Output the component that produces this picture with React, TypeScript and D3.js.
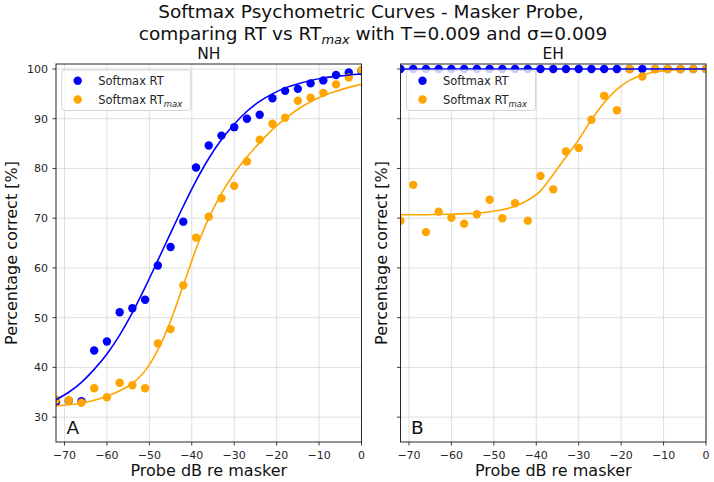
import React from "react";
import * as d3 from "d3";

// ---------- data ----------
const probeDb = [-72, -69, -66, -63, -60, -57, -54, -51, -48, -45, -42, -39, -36, -33, -30, -27, -24, -21, -18, -15, -12, -9, -6, -3, 0];

const nhRT = [33.0, 33.3, 33.2, 43.4, 45.2, 51.1, 51.9, 53.6, 60.5, 64.2, 69.3, 80.2, 84.6, 86.6, 88.3, 90.0, 90.8, 94.1, 95.6, 96.0, 97.1, 97.7, 98.8, 99.3, 99.6];
const nhRTmax = [33.5, 33.4, 32.9, 35.8, 34.0, 36.9, 36.4, 35.8, 44.8, 47.7, 56.5, 66.1, 70.3, 74.0, 76.5, 81.4, 85.8, 89.0, 90.2, 93.6, 94.2, 95.2, 96.9, 98.3, 99.8];
const ehRT = [100, 100, 100, 100, 100, 100, 100, 100, 100, 100, 100, 100, 100, 100, 100, 100, 100, 100, 100, 100, 100, 100, 100, 100, 100];
const ehRTmax = [69.5, 76.7, 67.2, 71.3, 70.1, 68.9, 70.8, 73.7, 70.0, 73.0, 69.5, 78.5, 75.8, 83.4, 84.1, 89.8, 94.6, 91.7, 100, 98.5, 100, 100, 100, 100, 100];

// fitted psychometric curves (read at the same probe levels)
const nhFitRT = [33.5, 35.0, 37.0, 39.6, 42.7, 46.5, 51.0, 56.1, 61.5, 67.0, 72.4, 77.5, 82.0, 85.8, 88.9, 91.5, 93.5, 95.0, 96.2, 97.0, 97.7, 98.2, 98.5, 98.8, 99.0];
const nhFitRTmax = [32.3, 32.5, 32.8, 33.4, 34.2, 35.3, 36.8, 39.3, 43.5, 49.3, 56.5, 63.8, 70.0, 75.0, 79.0, 82.3, 85.2, 87.8, 90.0, 91.9, 93.4, 94.6, 95.5, 96.3, 96.9];
const ehFitRT = [100, 100, 100, 100, 100, 100, 100, 100, 100, 100, 100, 100, 100, 100, 100, 100, 100, 100, 100, 100, 100, 100, 100, 100, 100];
const ehFitRTmax = [70.7, 70.7, 70.7, 70.8, 70.8, 70.9, 71.0, 71.3, 71.7, 72.4, 73.6, 75.5, 78.8, 82.3, 85.8, 89.8, 93.2, 95.9, 97.7, 98.8, 99.4, 99.7, 99.9, 100, 100];

const xTicks = [-70, -60, -50, -40, -30, -20, -10, 0];
const yTicks = [30, 40, 50, 60, 70, 80, 90, 100];
const panelTitles = ["NH", "EH"];
const panelLetters = ["A", "B"];

// ---------- layout ----------
const W = 714;
const H = 482;
const TOP = 64;
const BOTTOM = 442;
const PANELS = [
  { x0: 56, x1: 361.5 },
  { x0: 400.5, x1: 706 },
];
const FONT = "DejaVu Sans, Liberation Sans, sans-serif";
const BLUE = "#0000ff";
const ORANGE = "#ffa500";
const AXIS = "#262626";
const GRID = "#dadada";

const fmt = (v: number) => (v < 0 ? "\u2212" + Math.abs(v) : String(v));

function Legend({ x, y }: { x: number; y: number }) {
  return (
    <g transform={`translate(${x},${y})`}>
      <rect x={0} y={0} width={129} height={40.5} rx={3} fill="white" fillOpacity={0.8} stroke="#cccccc" strokeWidth={0.8} />
      <circle cx={16} cy={10.7} r={4.2} fill={BLUE} />
      <text x={36.5} y={10.7} dy="0.36em" fontSize={11.5} fontFamily={FONT} fill={AXIS}>Softmax RT</text>
      <circle cx={16} cy={29.5} r={4.2} fill={ORANGE} />
      <text x={36.5} y={29.5} dy="0.36em" fontSize={11.5} fontFamily={FONT} fill={AXIS}>
        Softmax RT<tspan fontStyle="italic" fontSize={8.5} dy="3">max</tspan>
      </text>
    </g>
  );
}

function Panel({ idx, rt, rtmax, fitRT, fitRTmax }: { idx: number; rt: number[]; rtmax: number[]; fitRT: number[]; fitRTmax: number[] }) {
  const p = PANELS[idx];
  const x = d3.scaleLinear().domain([-72, 0]).range([p.x0, p.x1]);
  const y = d3.scaleLinear().domain([25, 101]).range([BOTTOM, TOP]);
  const line = d3
    .line<[number, number]>()
    .x((d) => x(d[0]))
    .y((d) => y(d[1]))
    .curve(d3.curveMonotoneX);
  const clipId = `clip${idx}`;
  const cx = (p.x0 + p.x1) / 2;
  const ptsRT = probeDb.map((d, i) => [d, rt[i]] as [number, number]);
  const ptsMax = probeDb.map((d, i) => [d, rtmax[i]] as [number, number]);
  const fRT = probeDb.map((d, i) => [d, fitRT[i]] as [number, number]);
  const fMax = probeDb.map((d, i) => [d, fitRTmax[i]] as [number, number]);
  return (
    <g>
      <defs>
        <clipPath id={clipId}>
          <rect x={p.x0} y={TOP} width={p.x1 - p.x0} height={BOTTOM - TOP} />
        </clipPath>
      </defs>
      {/* grid */}
      {xTicks.map((t) => (
        <line key={"gx" + t} x1={x(t)} x2={x(t)} y1={TOP} y2={BOTTOM} stroke={GRID} strokeWidth={0.9} />
      ))}
      {yTicks.map((t) => (
        <line key={"gy" + t} x1={p.x0} x2={p.x1} y1={y(t)} y2={y(t)} stroke={GRID} strokeWidth={0.9} />
      ))}
      <g clipPath={`url(#${clipId})`}>
        {ptsRT.map((d, i) => (
          <circle key={"b" + i} cx={x(d[0])} cy={y(d[1])} r={4.2} fill={BLUE} />
        ))}
        {ptsMax.map((d, i) => (
          <circle key={"o" + i} cx={x(d[0])} cy={y(d[1])} r={4.2} fill={ORANGE} />
        ))}
        <path d={line(fMax) || ""} fill="none" stroke={ORANGE} strokeWidth={1.6} />
        <path d={line(fRT) || ""} fill="none" stroke={BLUE} strokeWidth={1.6} />
      </g>
      {/* spines */}
      <rect x={p.x0} y={TOP} width={p.x1 - p.x0} height={BOTTOM - TOP} fill="none" stroke={AXIS} strokeWidth={1} />
      {/* x ticks */}
      {xTicks.map((t) => (
        <g key={"xt" + t}>
          <line x1={x(t)} x2={x(t)} y1={BOTTOM} y2={BOTTOM + 3.5} stroke={AXIS} strokeWidth={0.9} />
          <text x={x(t)} y={459} textAnchor="middle" fontSize={11} fontFamily={FONT} fill={AXIS}>{fmt(t)}</text>
        </g>
      ))}
      {/* y ticks */}
      {yTicks.map((t) => (
        <g key={"yt" + t}>
          <line x1={p.x0 - 3.5} x2={p.x0} y1={y(t)} y2={y(t)} stroke={AXIS} strokeWidth={0.9} />
          {idx === 0 && (
            <text x={p.x0 - 8} y={y(t)} dy="0.36em" textAnchor="end" fontSize={11} fontFamily={FONT} fill={AXIS}>{t}</text>
          )}
        </g>
      ))}
      <text x={cx} y={59} textAnchor="middle" fontSize={15.5} fontFamily={FONT} fill="#111">{panelTitles[idx]}</text>
      <text x={cx} y={476} textAnchor="middle" fontSize={16} fontFamily={FONT} fill="#111">Probe dB re masker</text>
      <text
        transform={`translate(${idx === 0 ? 17 : 387},${(TOP + BOTTOM) / 2}) rotate(-90)`}
        textAnchor="middle"
        fontSize={16}
        fontFamily={FONT}
        fill="#111"
      >
        Percentage correct [%]
      </text>
      <text x={p.x0 + 10.5} y={434.3} fontSize={18.5} fontFamily={FONT} fill="#111">{panelLetters[idx]}</text>
      <Legend x={idx === 0 ? 61.7 : 406.5} y={70} />
    </g>
  );
}

export default function App() {
  return (
    <svg width={W} height={H} style={{ position: "absolute", left: 0, top: 0, background: "white" }}>
      <rect x={0} y={0} width={W} height={H} fill="white" />
      <text x={371} y={18} textAnchor="middle" fontSize={18.5} fontFamily={FONT} fill="#111">
        Softmax Psychometric Curves - Masker Probe,
      </text>
      <text x={373} y={40} textAnchor="middle" fontSize={18.5} fontFamily={FONT} fill="#111">
        comparing RT vs RT<tspan fontStyle="italic" fontSize={13} dy="4">max</tspan>
        <tspan dy="-4"> with T=0.009 and σ=0.009</tspan>
      </text>
      <Panel idx={0} rt={nhRT} rtmax={nhRTmax} fitRT={nhFitRT} fitRTmax={nhFitRTmax} />
      <Panel idx={1} rt={ehRT} rtmax={ehRTmax} fitRT={ehFitRT} fitRTmax={ehFitRTmax} />
    </svg>
  );
}
